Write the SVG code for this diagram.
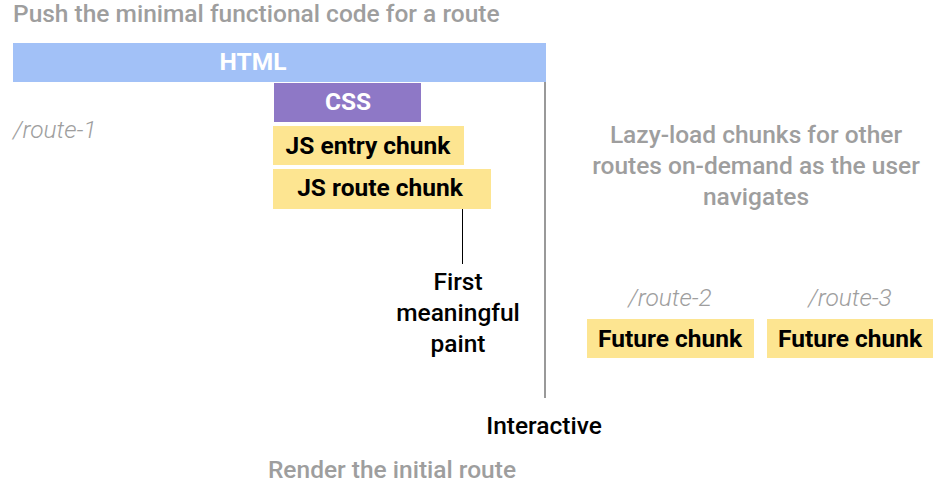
<svg xmlns="http://www.w3.org/2000/svg" width="936" height="483" viewBox="0 0 936 483">
<style>
text{font-family:Roboto,"Liberation Sans",sans-serif;font-size:24.5px}
.cap{fill:#9e9e9e;font-weight:500}
.lbl{fill:#000;font-weight:500;text-anchor:middle}
.bold{font-weight:700;text-anchor:middle}
.route{fill:#9e9e9e;font-style:italic;font-weight:300}
.y{fill:#fde591}
</style>
<rect width="936" height="483" fill="#fff"/>
<text class="cap" x="13" y="22">Push the minimal functional code for a route</text>
<g id="html"><rect x="13" y="43" width="533" height="39" fill="#a2c1f7"/><text class="bold" x="253" y="70" fill="#fff">HTML</text></g>
<g id="css"><rect x="274" y="83" width="147" height="39" fill="#8e78c6"/><text class="bold" x="348" y="110" fill="#fff">CSS</text></g>
<text class="route" x="13" y="138">/route-1</text>
<g id="js-entry"><rect class="y" x="273" y="126" width="191" height="39"/><text class="bold" x="368" y="154">JS entry chunk</text></g>
<g id="js-route"><rect class="y" x="273" y="169" width="218" height="40"/><text class="bold" x="380" y="196">JS route chunk</text></g>
<g id="connectors">
<line x1="462.5" y1="209" x2="462.5" y2="264" stroke="#000" stroke-width="1"/>
<line x1="545" y1="82" x2="545" y2="398" stroke="#777" stroke-width="1.5"/>
</g>
<g id="fmp"><text class="lbl" x="458" y="290">First</text><text class="lbl" x="458" y="321">meaningful</text><text class="lbl" x="458" y="352">paint</text></g>
<g id="interactive"><text class="lbl" x="544" y="434">Interactive</text></g>
<text class="cap" x="392" y="478" text-anchor="middle">Render the initial route</text>
<g id="lazy"><text class="cap" x="756" y="143" text-anchor="middle">Lazy-load chunks for other</text><text class="cap" x="756" y="174" text-anchor="middle">routes on-demand as the user</text><text class="cap" x="756" y="205" text-anchor="middle">navigates</text></g>
<text class="route" x="670" y="306" text-anchor="middle">/route-2</text>
<text class="route" x="850" y="306" text-anchor="middle">/route-3</text>
<g id="future-1"><rect class="y" x="587" y="319" width="167" height="39"/><text class="bold" x="670" y="347">Future chunk</text></g>
<g id="future-2"><rect class="y" x="767" y="319" width="166" height="39"/><text class="bold" x="850" y="347">Future chunk</text></g>
</svg>
